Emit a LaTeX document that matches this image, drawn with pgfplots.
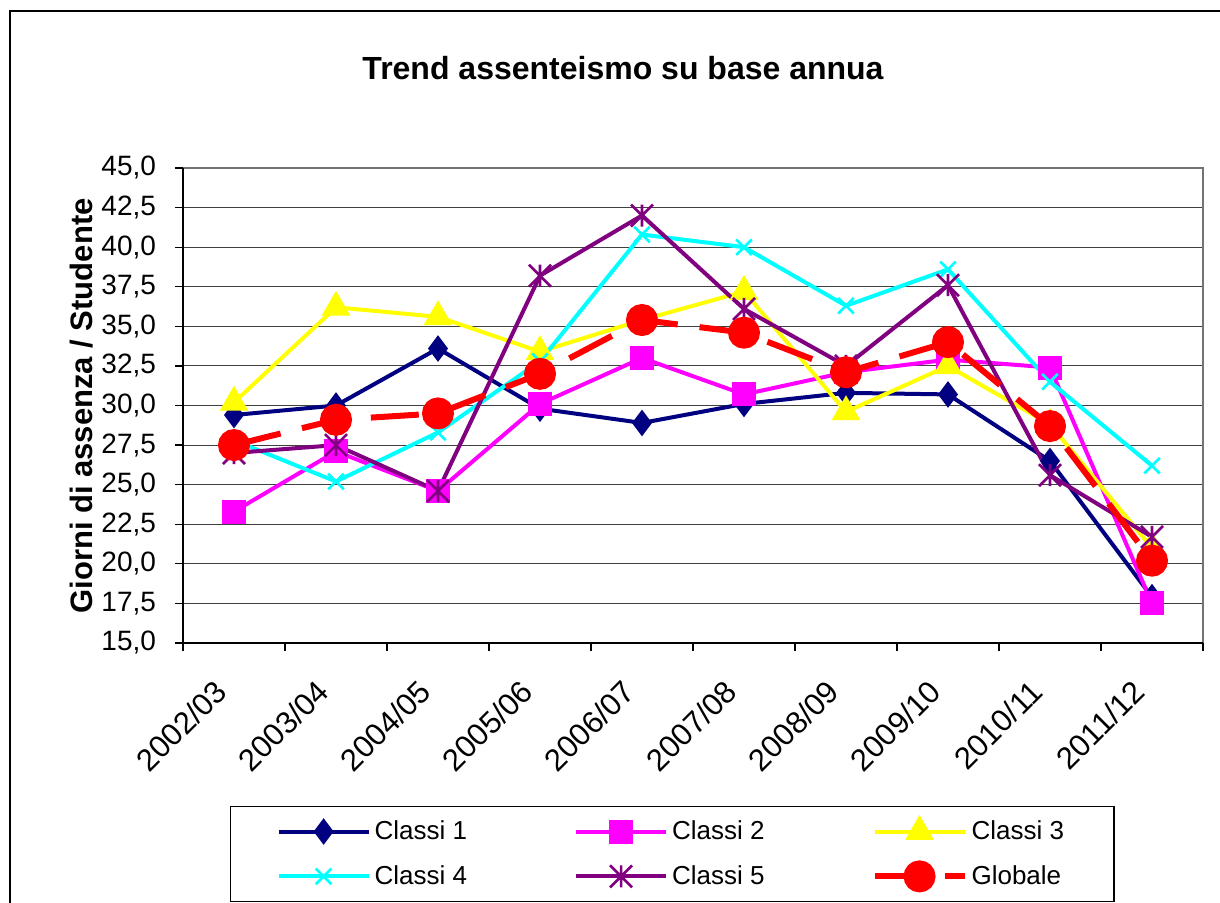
\documentclass[border=0pt]{standalone}
\usepackage{pgfplots}
\pgfplotsset{compat=1.18}
\usepackage{fontspec}
\setmainfont{Liberation Sans}
\definecolor{c1}{RGB}{0,0,128}
\definecolor{c2}{RGB}{255,0,255}
\definecolor{c3}{RGB}{255,255,0}
\definecolor{c4}{RGB}{0,255,255}
\definecolor{c5}{RGB}{128,0,128}
\definecolor{cg}{RGB}{255,0,0}
\pgfdeclareplotmark{xstar}{%
 \pgfpathmoveto{\pgfqpoint{-\pgfplotmarksize}{-\pgfplotmarksize}}\pgfpathlineto{\pgfqpoint{\pgfplotmarksize}{\pgfplotmarksize}}%
 \pgfpathmoveto{\pgfqpoint{-\pgfplotmarksize}{\pgfplotmarksize}}\pgfpathlineto{\pgfqpoint{\pgfplotmarksize}{-\pgfplotmarksize}}%
 \pgfpathmoveto{\pgfqpoint{0pt}{-\pgfplotmarksize}}\pgfpathlineto{\pgfqpoint{0pt}{\pgfplotmarksize}}%
 \pgfusepathqstroke}
\begin{document}
\begin{tikzpicture}
\useasboundingbox (0pt,0pt) rectangle (610pt,-451.5pt);
\draw[black, line width=0.6pt] (5pt,-460pt) -- (5pt,-5.5pt) -- (620pt,-5.5pt);
\node[font=\fontsize{16}{19}\selectfont\bfseries] at (311.5pt,-34pt) {Trend assenteismo su base annua};
\node[font=\fontsize{15.5}{18}\selectfont\bfseries, rotate=90] at (41pt,-203pt) {Giorni di assenza / Studente};
\begin{axis}[
  at={(91.5pt,-321.5pt)}, anchor=south west,
  scale only axis, width=510pt, height=237.5pt,
  xmin=-0.5, xmax=9.5, ymin=15, ymax=45,
  axis line style={draw=none},
  tick align=outside, tick pos=left,
  major tick length=4pt,
  tick style={black, line width=0.6pt},
  xtick={-0.5,0.5,...,9.5}, xticklabels={},
  extra x ticks={0,1,...,9},
  extra x tick labels={2002/03,2003/04,2004/05,2005/06,2006/07,2007/08,2008/09,2009/10,2010/11,2011/12},
  extra x tick style={major tick length=0pt, tick style={draw=none},
    tick label style={yshift=-19pt, xshift=-4pt, rotate=45, anchor=east, font=\fontsize{15.5}{18}\selectfont}},
  ytick={15,17.5,...,45},
  ymajorgrids, grid style={black!75, line width=0.5pt},
  ticklabel style={font=\fontsize{14}{16}\selectfont},
  yticklabel style={xshift=-6pt, /pgf/number format/.cd, fixed, fixed zerofill, precision=1, use comma, assume math mode=true},
  legend columns=3,
  legend cell align=left,
  legend style={at={(0.0461,-0.3432)}, anchor=north west, draw=black, line width=0.6pt,
    font=\fontsize{13}{15}\selectfont, inner xsep=23pt, inner ysep=5pt,
    row sep=7.5pt,
    /tikz/every even column/.append style={column sep=51.5pt}},
  legend image code/.code={\draw[mark repeat=2, mark phase=2] plot coordinates {(0pt,0pt) (22.5pt,0pt) (45pt,0pt)};},
]
\addplot[c1, line width=2pt, mark=diamond*, mark size=5pt, mark options={solid}] coordinates {
(0,29.4) (1,30.0) (2,33.6) (3,29.8) (4,28.9) (5,30.1) (6,30.8) (7,30.7) (8,26.5) (9,17.9)};
\addlegendentry{Classi 1}
\addplot[c2, line width=2pt, mark=square*, mark size=5pt, mark options={solid}] coordinates {
(0,23.3) (1,27.1) (2,24.6) (3,30.1) (4,33.0) (5,30.7) (6,32.1) (7,32.9) (8,32.4) (9,17.5)};
\addlegendentry{Classi 2}
\addplot[c3, line width=2pt, mark=triangle*, mark size=6.3pt, mark options={solid}] coordinates {
(0,30.2) (1,36.2) (2,35.6) (3,33.4) (4,35.4) (5,37.2) (6,29.6) (7,32.5) (8,28.8) (9,21.0)};
\addlegendentry{Classi 3}
\addplot[c4, line width=2pt, mark=x, mark size=5.5pt, mark options={solid, line width=1.3pt}] coordinates {
(0,27.8) (1,25.2) (2,28.3) (3,32.8) (4,40.8) (5,40.0) (6,36.3) (7,38.6) (8,31.5) (9,26.2)};
\addlegendentry{Classi 4}
\addplot[c5, line width=2pt, mark=xstar, mark size=5.5pt, mark options={solid, line width=1.3pt}] coordinates {
(0,27.0) (1,27.5) (2,24.6) (3,38.2) (4,42.0) (5,36.1) (6,32.5) (7,37.6) (8,25.6) (9,21.7)};
\addlegendentry{Classi 5}
\addplot[cg, line width=3pt, dash pattern=on 24pt off 11pt, mark=*, mark size=6.5pt, mark options={solid}] coordinates {
(0,27.5) (1,29.1) (2,29.5) (3,32.0) (4,35.4) (5,34.6) (6,32.1) (7,34.0) (8,28.7) (9,20.2)};
\addlegendentry{Globale}
\end{axis}
\begin{scope}[shift={(91.5pt,-321.5pt)}]
\draw[black!55, line width=1pt] (0pt,237.5pt) -- (510pt,237.5pt) -- (510pt,0pt);
\draw[black, line width=0.8pt] (0pt,237.5pt) -- (0pt,0pt) -- (510pt,0pt);
\end{scope}
\end{tikzpicture}
\end{document}
